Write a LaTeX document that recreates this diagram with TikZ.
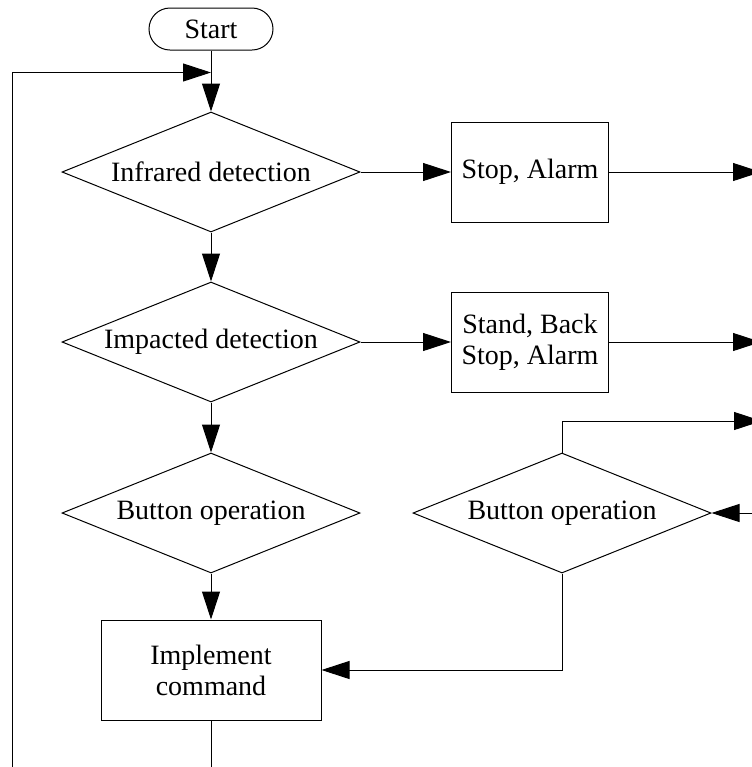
\documentclass[tikz,border=0pt]{standalone}
\usepackage{fontspec}
\setmainfont{Liberation Serif}
\usetikzlibrary{arrows.meta, shapes.geometric}

\begin{document}
\begin{tikzpicture}[
    -{Triangle[length=14pt,width=9pt]}, line width=0.5pt, node distance=85pt,
    every node/.style={draw, align=center, font=\fontsize{14}{15.5}\selectfont}
]
\useasboundingbox (0,0) rectangle (375.5pt,-383.5pt);
\node (start) [rectangle, rounded corners=10.5pt, minimum width=62pt, minimum height=21pt] at (105.5pt,-14.5pt) {Start};
\node (infrared_detect) [diamond, aspect=2.5, inner sep=0pt, minimum width=149pt, minimum height=60pt, below of=start, yshift=13.5pt] {Infrared detection};
\node (stop_alarm) [rectangle, minimum width=78.5pt, minimum height=50pt, right of=infrared_detect, xshift=74.5pt] {Stop, Alarm};
\node (impacted_detect) [diamond, aspect=2.5, inner sep=0pt, minimum width=149pt, minimum height=60pt, below of=infrared_detect] {Impacted detection};
\node (stand_back) [rectangle, minimum width=78.5pt, minimum height=50pt, right of=impacted_detect, xshift=74.5pt] {Stand, Back\\Stop, Alarm};
\node (button_op_left) [diamond, aspect=2.5, inner sep=0pt, minimum width=149pt, minimum height=60pt, below of=impacted_detect, yshift=-0.5pt] {Button operation};
\node (button_op_right) [diamond, aspect=2.5, inner sep=0pt, minimum width=149pt, minimum height=60pt, right of=button_op_left, xshift=90.5pt] {Button operation};
\node (implement_cmd) [rectangle, minimum width=110pt, minimum height=50pt, below of=button_op_left, yshift=6.5pt] {Implement\\command};
\coordinate (stop_out) at ([xshift=76pt]stop_alarm.east);
\coordinate (stand_out) at ([xshift=76pt]stand_back.east);
\coordinate (reset_out) at (381pt,-210.5pt);
\coordinate (button_in) at (380pt,-256.5pt);
\coordinate (loop_in) at ([yshift=-11pt]start.south);
\coordinate (loop_corner) at (6pt,-400pt);
\draw (start) -- (infrared_detect);
\draw (infrared_detect) -- (stop_alarm);
\draw (stop_alarm) -- (stop_out);
\draw (infrared_detect) -- (impacted_detect);
\draw (impacted_detect) -- (stand_back);
\draw (stand_back) -- (stand_out);
\draw (impacted_detect) -- (button_op_left);
\draw (button_op_left) -- (implement_cmd);
\draw (button_op_right.north) |- (reset_out);
\draw (button_in) -- (button_op_right.east);
\draw (button_op_right.south) |- (implement_cmd.east);
\draw (implement_cmd.south) |- (loop_corner) |- (loop_in);
\end{tikzpicture}
\end{document}
